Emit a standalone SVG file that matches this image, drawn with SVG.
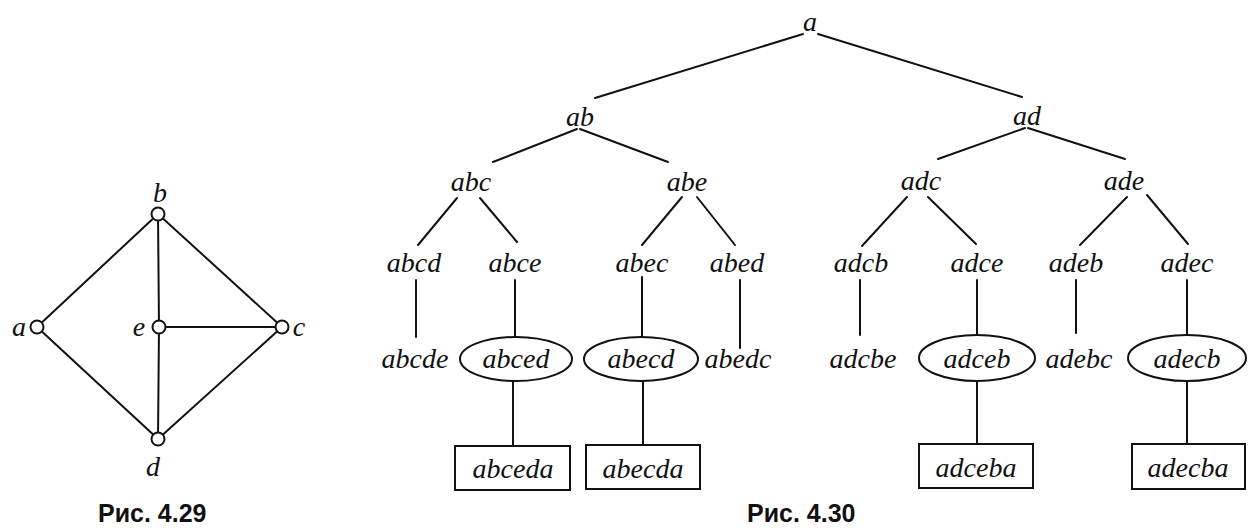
<svg xmlns="http://www.w3.org/2000/svg" width="1256" height="528" viewBox="0 0 1256 528">
<style>
.t{font-family:"Liberation Serif","Times New Roman",serif;font-style:italic;font-size:28px;fill:#111;text-anchor:middle}
.cap{font-family:"Liberation Sans",Arial,sans-serif;font-weight:bold;font-size:25px;fill:#111}
.e{stroke:#111;stroke-width:2;fill:none;stroke-linecap:round}
.v{fill:#fff;stroke:#111;stroke-width:2}
.sh{fill:#fff;stroke:#111;stroke-width:2}
</style>
<rect width="1256" height="528" fill="#fff"/>
<g id="graph429">
  <g id="graph-edges">
    <line class="e" x1="37" y1="327" x2="158" y2="214"/>
    <line class="e" x1="158" y1="214" x2="282" y2="327"/>
    <line class="e" x1="37" y1="327" x2="158" y2="439"/>
    <line class="e" x1="158" y1="439" x2="282" y2="327"/>
    <line class="e" x1="158" y1="214" x2="159" y2="327" stroke-width="1.6" stroke="#444"/>
    <line class="e" x1="159" y1="327" x2="158" y2="439"/>
    <line class="e" x1="159" y1="327" x2="282" y2="327"/>
  </g>
  <g id="v-b"><circle class="v" cx="158" cy="214" r="6.5"/><text class="t" x="160" y="202">b</text></g>
  <g id="v-a"><circle class="v" cx="37" cy="327" r="6.5"/><text class="t" x="19" y="336">a</text></g>
  <g id="v-e"><circle class="v" cx="159" cy="327" r="6.5"/><text class="t" x="139" y="336">e</text></g>
  <g id="v-c"><circle class="v" cx="282" cy="327" r="6.5"/><text class="t" x="299" y="336">c</text></g>
  <g id="v-d"><circle class="v" cx="158" cy="439" r="6.5"/><text class="t" x="153" y="476">d</text></g>
  <text class="cap" x="98" y="522">Рис. 4.29</text>
</g>
<g id="connectors">
  <line class="e" x1="803" y1="34" x2="595" y2="98"/>
  <line class="e" x1="818" y1="34" x2="1022" y2="97"/>
  <line class="e" x1="577" y1="129" x2="493" y2="162"/>
  <line class="e" x1="580" y1="129" x2="668" y2="162"/>
  <line class="e" x1="1025" y1="128" x2="938" y2="159"/>
  <line class="e" x1="1028" y1="128" x2="1125" y2="159"/>
  <line class="e" x1="457" y1="198" x2="418" y2="245"/>
  <line class="e" x1="480" y1="198" x2="517" y2="242"/>
  <line class="e" x1="682" y1="197" x2="642" y2="245"/>
  <line class="e" x1="697" y1="197" x2="735" y2="245"/>
  <line class="e" x1="907" y1="197" x2="862" y2="246"/>
  <line class="e" x1="928" y1="197" x2="976" y2="244"/>
  <line class="e" x1="1127" y1="197" x2="1080" y2="245"/>
  <line class="e" x1="1147" y1="195" x2="1188" y2="244"/>
  <line class="e" x1="416" y1="280" x2="416" y2="337"/>
  <line class="e" x1="515" y1="280" x2="515" y2="337"/>
  <line class="e" x1="642" y1="277" x2="642" y2="337"/>
  <line class="e" x1="740" y1="280" x2="740" y2="348"/>
  <line class="e" x1="860" y1="280" x2="860" y2="335"/>
  <line class="e" x1="977" y1="280" x2="977" y2="335"/>
  <line class="e" x1="1076" y1="280" x2="1076" y2="333"/>
  <line class="e" x1="1187" y1="280" x2="1187" y2="335"/>
  <line class="e" x1="513" y1="381" x2="513" y2="446"/>
  <line class="e" x1="643" y1="381" x2="643" y2="445"/>
  <line class="e" x1="977" y1="381" x2="977" y2="444"/>
  <line class="e" x1="1187" y1="381" x2="1187" y2="444"/>
</g>
<g id="n-a"><text class="t" x="810" y="31">a</text></g>
<g id="n-ab"><text class="t" x="580" y="126">ab</text></g>
<g id="n-ad"><text class="t" x="1027" y="125">ad</text></g>
<g id="n-abc"><text class="t" x="471" y="191">abc</text></g>
<g id="n-abe"><text class="t" x="687" y="191">abe</text></g>
<g id="n-adc"><text class="t" x="921" y="190">adc</text></g>
<g id="n-ade"><text class="t" x="1124" y="190">ade</text></g>
<g id="n-abcd"><text class="t" x="414" y="272">abcd</text></g>
<g id="n-abce"><text class="t" x="515" y="272">abce</text></g>
<g id="n-abec"><text class="t" x="642" y="272">abec</text></g>
<g id="n-abed"><text class="t" x="737" y="272">abed</text></g>
<g id="n-adcb"><text class="t" x="861" y="272">adcb</text></g>
<g id="n-adce"><text class="t" x="977" y="272">adce</text></g>
<g id="n-adeb"><text class="t" x="1076" y="272">adeb</text></g>
<g id="n-adec"><text class="t" x="1187" y="272">adec</text></g>
<g id="n-abcde"><text class="t" x="415" y="368">abcde</text></g>
<g id="n-abced"><ellipse class="sh" cx="516" cy="359" rx="56" ry="22"/><text class="t" x="516" y="368">abced</text></g>
<g id="n-abecd"><ellipse class="sh" cx="641" cy="359" rx="57" ry="22"/><text class="t" x="641" y="368">abecd</text></g>
<g id="n-abedc"><text class="t" x="738" y="368">abedc</text></g>
<g id="n-adcbe"><text class="t" x="863" y="368">adcbe</text></g>
<g id="n-adceb"><ellipse class="sh" cx="977" cy="358" rx="58" ry="23"/><text class="t" x="977" y="368">adceb</text></g>
<g id="n-adebc"><text class="t" x="1079" y="368">adebc</text></g>
<g id="n-adecb"><ellipse class="sh" cx="1187" cy="358" rx="59" ry="23"/><text class="t" x="1187" y="368">adecb</text></g>
<g id="n-abceda"><rect class="sh" x="455" y="446" width="115" height="44"/><text class="t" x="513" y="478">abceda</text></g>
<g id="n-abecda"><rect class="sh" x="586" y="445" width="114" height="44"/><text class="t" x="643" y="478">abecda</text></g>
<g id="n-adceba"><rect class="sh" x="919" y="444" width="114" height="44"/><text class="t" x="976" y="477">adceba</text></g>
<g id="n-adecba"><rect class="sh" x="1132" y="444" width="113" height="45"/><text class="t" x="1188" y="477">adecba</text></g>
<text class="cap" x="747" y="522">Рис. 4.30</text>
</svg>
